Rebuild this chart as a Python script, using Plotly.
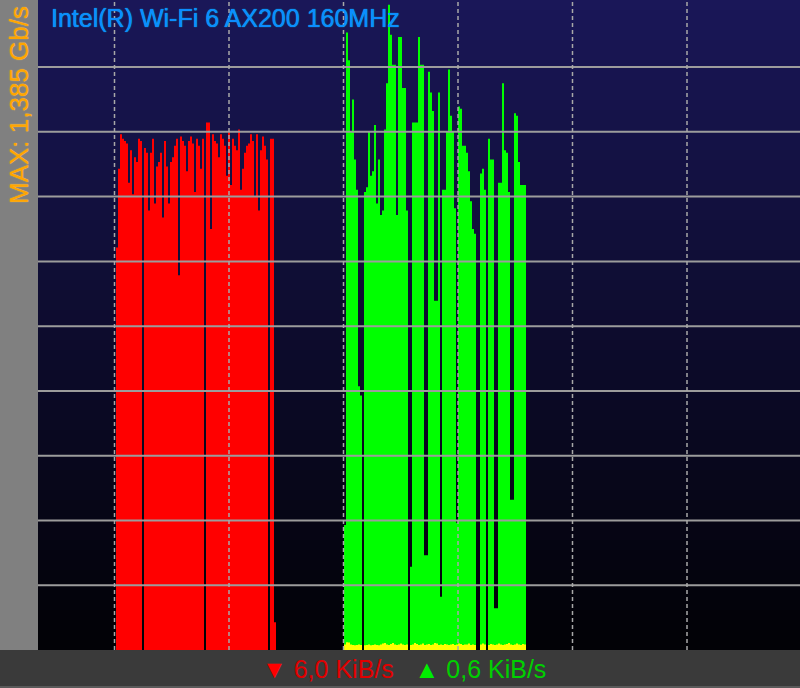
import numpy as np
import plotly.graph_objects as go

# ---- data (Mb/s per sample; one sample = one time step) ----
red_start = 39
red_vals = [870, 1040, 1115, 1105, 1100, 1095, 1010, 1080, 985, 1065,
            1055, 1105, 1100, 0, 1085, 1075, 950, 1075, 1105, 965,
            1045, 1055, 1075, 935, 1100, 1045, 965, 1055, 1065, 1090,
            1105, 810, 1110, 1100, 1090, 1035, 1100, 1110, 1095, 990,
            1105, 1090, 1040, 1105, 0, 1140, 1140, 910, 1115, 1100,
            1095, 1065, 1115, 1105, 1090, 1025, 1120, 1005, 1105, 1090,
            1080, 1125, 995, 1040, 1075, 1090, 1095, 1115, 1100, 980,
            1115, 950, 1080, 1110, 1090, 1060, 0, 1105, 1105, 60]

green_start = 153
green_vals = [270, 1335, 1275, 1120, 1190, 1060, 995, 570, 550, 0,
              990, 1000, 1120, 1025, 1035, 1135, 965, 1060, 940, 950,
              1125, 1225, 1395, 1330, 1265, 1265, 940, 1325, 1325, 1215,
              1215, 950, 0, 180, 1140, 1140, 1140, 1325, 1265, 1265,
              205, 205, 1250, 1205, 1165, 755, 755, 1205, 115, 995,
              995, 1120, 1255, 1155, 1120, 955, 275, 1175, 1170, 1090,
              1090, 1075, 1035, 970, 910, 900, 0, 0, 1030, 1040,
              995, 0, 1105, 1060, 1060, 90, 90, 1010, 1010, 1225,
              1080, 1075, 990, 325, 325, 1160, 1155, 1055, 1005, 1005,
              1005]

yellow_vals = [12, 17, 16, 12, 11, 10, 11, 12, 11, 0,
               10, 11, 12, 10, 11, 12, 11, 10, 12, 14,
               15, 12, 11, 13, 15, 12, 11, 12, 14, 12,
               11, 12, 0, 11, 12, 15, 13, 11, 12, 14,
               11, 12, 13, 11, 12, 15, 14, 11, 12, 11,
               13, 12, 11, 12, 13, 11, 12, 14, 13, 11,
               12, 12, 14, 11, 12, 11, 0, 0, 12, 14,
               12, 0, 11, 13, 12, 11, 12, 14, 12, 11,
               12, 13, 15, 12, 11, 12, 14, 12, 11, 13,
               12]

y_max = 1405
y_grid = [140, 280, 420, 560, 700, 840, 980, 1120, 1260]
x_total = 381
x_grid = [38.25, 95.5, 152.75, 210.0, 267.25, 324.5]

title_text = "Intel(R) Wi-Fi 6 AX200 160MHz"
max_text = "MAX: 1,385 Gb/s"
down_text = "6,0 KiB/s"
up_text = "0,6 KiB/s"

W, H = 800, 688
ML, MB = 38, 38
PW, PH = W - ML, H - MB


def step_xy(start, vals):
    x = list(np.arange(start, start + len(vals) + 1))
    y = list(vals) + [vals[-1]]
    return x, y


fig = go.Figure()
for start, vals, col in [(red_start, red_vals, "#ff0000"),
                         (green_start, green_vals, "#00ff00"),
                         (green_start, yellow_vals, "#ffff00")]:
    x, y = step_xy(start, vals)
    fig.add_trace(go.Scatter(x=x, y=y, mode="lines", line_shape="hv",
                             line=dict(width=0, color=col, simplify=False),
                             fill="tozeroy", fillcolor=col,
                             hoverinfo="skip", showlegend=False))

shapes = []
# background gradient
N = 65
top = np.array([26, 23, 88])
bot = np.array([2, 2, 6])
for i in range(N):
    t = i / (N - 1)
    c = (top * (1 - t) + bot * t).astype(int)
    y1 = 1 - i / N
    y0 = 1 - (i + 1) / N - 0.002
    shapes.append(dict(type="rect", xref="paper", yref="paper", x0=0, x1=1,
                       y0=max(y0, 0), y1=y1, line=dict(width=0),
                       fillcolor=f"rgb({c[0]},{c[1]},{c[2]})", layer="below"))
# left strip
shapes.append(dict(type="rect", xref="paper", yref="paper", x0=-ML / PW, x1=0,
                   y0=0, y1=1, line=dict(width=0), fillcolor="#808080", layer="below"))
# bottom border
shapes.append(dict(type="rect", xref="paper", yref="paper", x0=-ML / PW, x1=1,
                   y0=-MB / PH, y1=-(MB - 2) / PH, line=dict(width=0),
                   fillcolor="#5a5a5a", layer="below"))
# grid above traces
for v in y_grid:
    shapes.append(dict(type="line", xref="paper", yref="y", x0=0, x1=1, y0=v, y1=v,
                       line=dict(color="#9c9c9c", width=2), layer="above"))
for v in x_grid:
    shapes.append(dict(type="line", xref="x", yref="paper", x0=v, x1=v, y0=0, y1=1,
                       line=dict(color="#a8a8a8", width=1.5, dash="4px,3px"), layer="above"))

annotations = [
    dict(text=title_text, xref="paper", yref="paper",
         x=(49 - ML) / PW, y=1 - 18 / PH, xanchor="left", yanchor="middle",
         showarrow=False,
         font=dict(family="Liberation Sans, Arial, sans-serif", size=25,
                   color="#0c8cff", shadow="0px 0px 1px #00e8ff")),
    dict(text=max_text, xref="paper", yref="paper",
         x=(19 - ML) / PW, y=1 - 105 / PH, xanchor="center", yanchor="middle",
         textangle=-90, showarrow=False,
         font=dict(family="Liberation Sans, Arial, sans-serif", size=26,
                   color="#ffa500", shadow="0px 0px 1px #ffd060")),
    dict(text=("<span style='color:#ff0000'>▼</span>\u00a0"
               f"<span style='color:#e00000'>{down_text}</span>\u00a0\u00a0\u00a0"
               "<span style='color:#00ee00'>▲</span>\u00a0"
               f"<span style='color:#00d000'>{up_text}</span>"),
         xref="paper", yref="paper", x=(404 - ML) / PW, y=-19 / PH,
         xanchor="center", yanchor="middle", showarrow=False,
         font=dict(family="Liberation Sans, Arial, sans-serif", size=25)),
]

fig.update_layout(
    width=W, height=H, autosize=False,
    margin=dict(l=ML, r=0, t=0, b=MB, pad=0),
    paper_bgcolor="#3a3a3a", plot_bgcolor="#000000",
    shapes=shapes, annotations=annotations,
    xaxis=dict(range=[0, x_total], showgrid=False, zeroline=False,
               showticklabels=False, ticks="", showline=False, fixedrange=True),
    yaxis=dict(range=[0, y_max], showgrid=False, zeroline=False,
               showticklabels=False, ticks="", showline=False, fixedrange=True),
    showlegend=False,
)

fig.write_html("out.html", config={"displayModeBar": False},
               post_script="document.body.style.margin='0';"
                           "document.body.style.padding='0';"
                           "document.body.style.overflow='hidden';")
